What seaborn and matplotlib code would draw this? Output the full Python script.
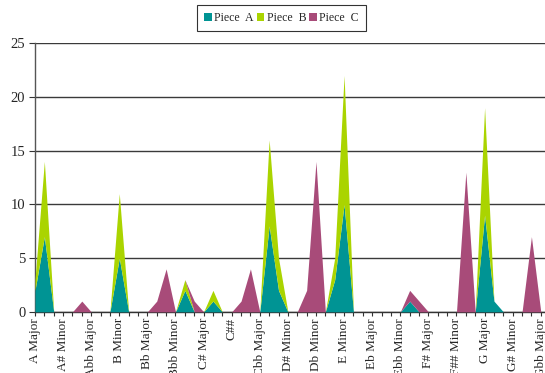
import numpy as np
import pandas as pd
import matplotlib
matplotlib.use("Agg")
import matplotlib.pyplot as plt
import seaborn as sns

# Key occurrences per piece over 55 keys (every third key is labelled)
tick_labels = ["A Major", "A# Minor", "Abb Major", "B Minor", "Bb Major", "Bbb Minor",
               "C# Major", "C##", "Cbb Major", "D# Minor", "Db Minor", "E Minor",
               "Eb Major", "Ebb Minor", "F# Major", "F## Minor", "G Major", "G# Minor",
               "Gbb Major"]
series_names = ["Piece  A", "Piece  B", "Piece  C"]

piece_a = [2, 7, 0, 0, 0, 0, 0, 0, 0, 5, 0, 0, 0, 0, 0, 0, 2, 0, 0, 1,
           0, 0, 0, 0, 0, 8, 2, 0, 0, 0, 0, 0, 3, 10, 0, 0, 0, 0, 0, 0,
           1, 0, 0, 0, 0, 0, 0, 0, 9, 1, 0, 0, 0, 0, 0]
piece_b = [1, 7, 0, 0, 0, 0, 0, 0, 0, 6, 0, 0, 0, 0, 0, 0, 1, 0, 0, 1,
           0, 0, 0, 0, 0, 8, 3, 0, 0, 0, 0, 0, 2, 12, 0, 0, 0, 0, 0, 0,
           0, 0, 0, 0, 0, 0, 0, 0, 10, 0, 0, 0, 0, 0, 0]
piece_c = [0, 0, 0, 0, 0, 1, 0, 0, 0, 0, 0, 0, 0, 1, 4, 0, 0, 1, 0, 0,
           0, 0, 1, 4, 0, 0, 0, 0, 0, 2, 14, 0, 0, 0, 0, 0, 0, 0, 0, 0,
           1, 1, 0, 0, 0, 0, 13, 0, 0, 0, 0, 0, 0, 7, 0]

colors = ["#009494", "#aad400", "#a84b79"]

df = pd.DataFrame({"idx": np.arange(len(piece_a)),
                   series_names[0]: piece_a,
                   series_names[1]: piece_b,
                   series_names[2]: piece_c})

sns.set_style("white")
plt.rcParams["font.family"] = ["Liberation Serif", "DejaVu Serif"]

fig = plt.figure(figsize=(5.45, 3.73), dpi=100)
ax = fig.add_axes([0.0642, 0.164, 0.9358, 0.72])

ax.stackplot(df["idx"], df[series_names[0]], df[series_names[1]], df[series_names[2]],
             colors=colors, labels=series_names, linewidth=0, zorder=3)

n = len(df)
ax.set_xlim(0, n - 1 + 0.45)
ax.set_ylim(0, 25)
ax.set_yticks(np.arange(0, 26, 5))
ax.yaxis.grid(True, color="#3a3a3a", linewidth=1.0, zorder=1)
ax.xaxis.grid(False)

ax.set_xticks(np.arange(n), minor=True)
ax.set_xticks(np.arange(0, n, 3))
ax.set_xticklabels(tick_labels, rotation=90, fontsize=9.5)
ax.tick_params(axis="x", which="both", direction="out", length=3, width=0.8,
               color="#333333", bottom=True, pad=1.5)
ax.tick_params(axis="y", direction="out", length=4, width=0.8, color="#333333",
               left=True, labelsize=10.5, pad=3)

for side in ["top", "right"]:
    ax.spines[side].set_visible(False)
ax.spines["left"].set_color("#555555")
ax.spines["bottom"].set_color("#333333")
ax.spines["left"].set_linewidth(1.0)
ax.spines["bottom"].set_linewidth(1.0)

leg = fig.legend(loc="upper center", bbox_to_anchor=(0.5165, 0.987), ncol=3, frameon=True,
                 fancybox=False, fontsize=8.5, handlelength=0.65, handleheight=0.65,
                 handletextpad=0.2, columnspacing=0.25, borderpad=0.6,
                 borderaxespad=0.0)
leg.get_frame().set_edgecolor("black")
leg.get_frame().set_linewidth(0.8)

fig.savefig("out.png", dpi=100)
